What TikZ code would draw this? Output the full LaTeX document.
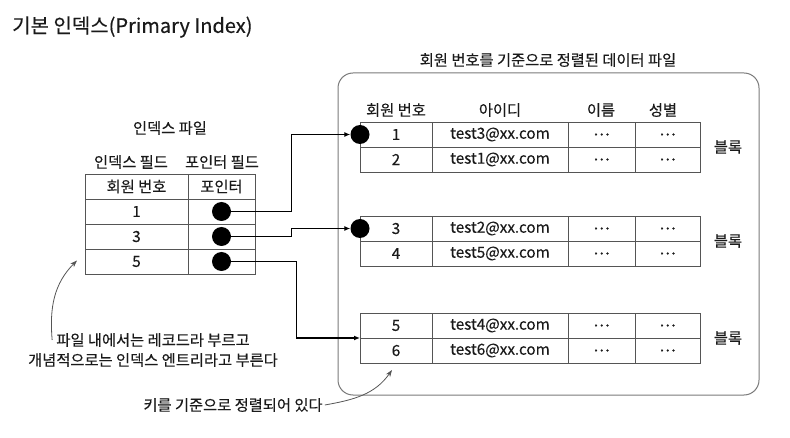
\documentclass[tikz,border=0pt]{standalone}
\usepackage{fontspec}
\setmainfont[FakeBold=0.3]{Noto Sans CJK KR}
\usetikzlibrary{arrows.meta,positioning}
\definecolor{ink}{HTML}{1A1A1A}
\definecolor{rule}{HTML}{555555}
\definecolor{frame}{HTML}{7A7A7A}
\tikzset{cell/.style={draw=rule,anchor=north west,minimum height=25pt,inner sep=0pt,outer sep=0pt,text=ink,font=\fontsize{15.3}{17}\selectfont},lbl/.style={text=ink,font=\fontsize{15.3}{17}\selectfont,inner sep=2pt},dot/.style={circle,fill=black,minimum size=19pt,inner sep=0pt},databox/.style={draw=frame,line width=1pt,rounded corners=15pt,inner sep=0pt},link/.style={-{Latex[length=6pt,width=5pt]},line width=1.2pt,draw=black},note/.style={-{Stealth[length=7pt,width=5pt]},line width=0.8pt,draw=rule}}

\begin{document}
\begin{tikzpicture}[x=1pt,y=-1pt]
\useasboundingbox (0,0) rectangle (790,438);
\node[text=ink,font=\fontsize{20}{23}\selectfont,anchor=west,inner sep=0pt] (title) at (12,27) {기본 인덱스(Primary Index)};
% index file
\node[lbl] (ifile) at (170,128) {인덱스 파일};
\node[lbl] (ifield) at (131,162) {인덱스 필드};
\node[lbl] (pfield) at (222,162) {포인터 필드};
\node[cell,minimum width=103pt] (ih1) at (85,174) {회원 번호};
\node[cell,minimum width=67pt] (ih2) at (188,174) {포인터};
\foreach \k/\y in {1/199,3/224,5/249} {
  \node[cell,minimum width=103pt] (i\k) at (85,\y) {\k};
  \node[cell,minimum width=67pt] (q\k) at (188,\y) {};
  \node[dot] (p\k) at (q\k) {};
}
% data file
\node[databox,minimum width=421pt,minimum height=322pt] (df) at (548.5,234) {};
\node[lbl] (dtitle) at (548,60) {회원 번호를 기준으로 정렬된 데이터 파일};
\node[lbl] (hk) at (396,110) {회원 번호};
\node[lbl] (hm) at (500,110) {아이디};
\node[lbl] (hn) at (601,110) {이름};
\node[lbl] (hg) at (663,110) {성별};
\foreach \y/\ka/\kb/\ma/\mb in {122/1/2/test3/test1,216/3/4/test2/test5,313/5/6/test4/test6} {
  \node[cell,minimum width=72pt] (k\ka) at (360,\y) {\ka};
  \node[cell,minimum width=136pt] (m\ka) at (432,\y) {\ma @xx.com};
  \node[cell,minimum width=67pt] (n\ka) at (568,\y) {⋯};
  \node[cell,minimum width=65pt] (g\ka) at (635,\y) {⋯};
  \node[cell,minimum width=72pt] (k\kb) at (360,\y+25) {\kb};
  \node[cell,minimum width=136pt] (m\kb) at (432,\y+25) {\mb @xx.com};
  \node[cell,minimum width=67pt] (n\kb) at (568,\y+25) {⋯};
  \node[cell,minimum width=65pt] (g\kb) at (635,\y+25) {⋯};
  \node[lbl] (blk\ka) at (728,\y+25) {블록};
}
\node[dot] (t1) at (k1.west) {};
\node[dot] (t3) at (k3.west) {};
\draw[link] (p1.center) -- ++(70,0) |- (t1.west);
\draw[link] (p3.center) -- ++(70,0) |- (t3.west);
\draw[link] (p5.center) -- ++(75,0) |- (k5.south west);
% notes
\node[lbl] (recA) at (153,340) {파일 내에서는 레코드라 부르고};
\node[lbl] (recB) at (153,360) {개념적으로는 인덱스 엔트리라고 부른다};
\node[lbl] (sorted) at (233,405) {키를 기준으로 정렬되어 있다};
\draw[note] ([xshift=-2pt]recA.west) to[out=95,in=225] ([xshift=-8pt,yshift=1pt]i5.west);
\draw[note] (sorted.east) to[out=10,in=235] ([xshift=-4pt,yshift=-7pt]k6.south);
\end{tikzpicture}
\end{document}
